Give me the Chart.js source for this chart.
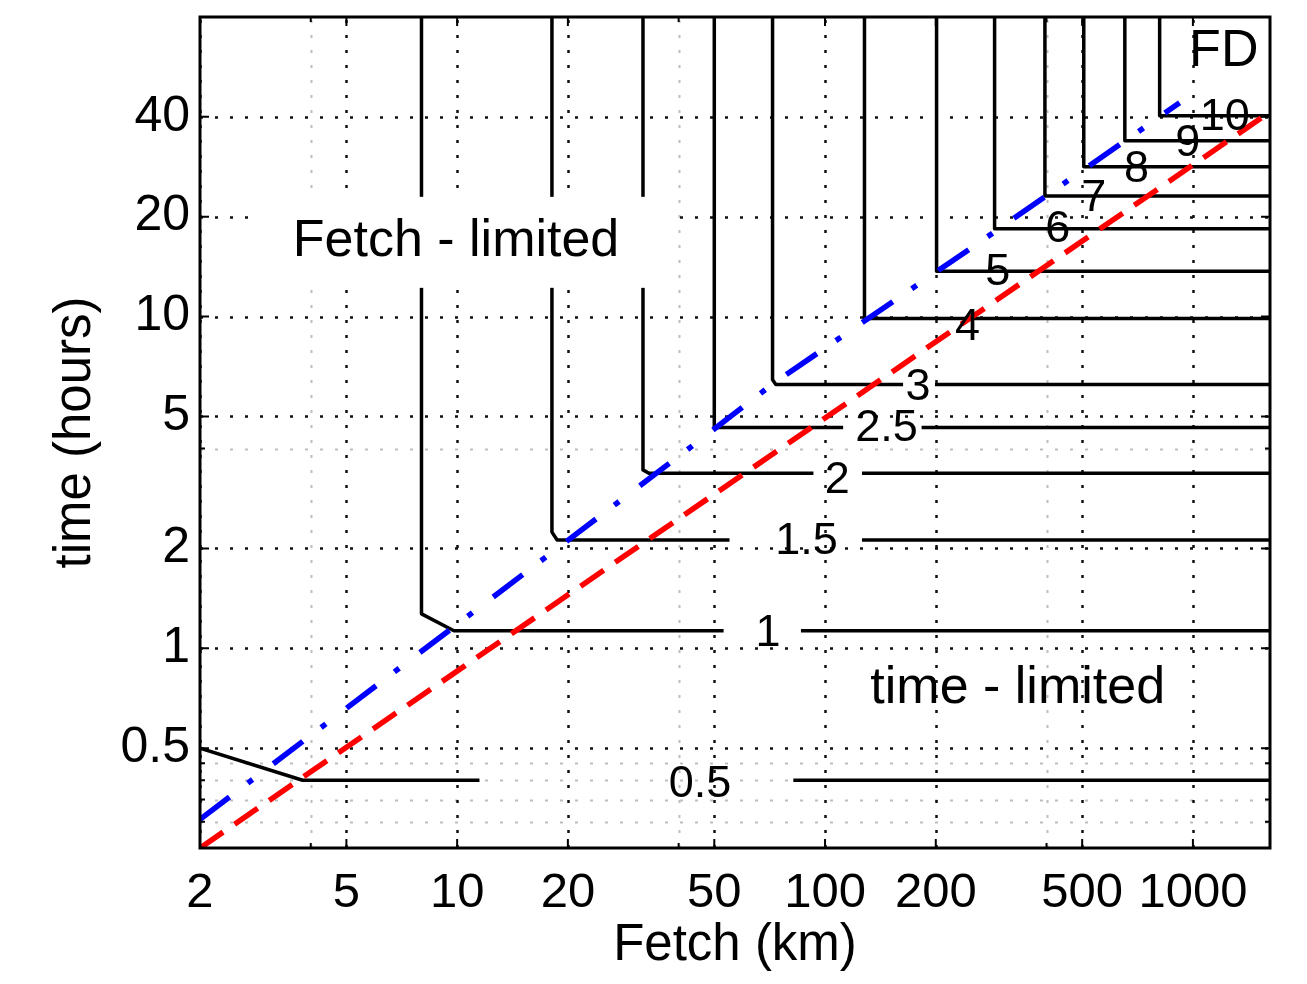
<!DOCTYPE html>
<html><head><meta charset="utf-8">
<script src="https://cdn.jsdelivr.net/npm/chart.js@4/dist/chart.umd.min.js"></script>
<style>html,body{margin:0;padding:0;background:#fff}#wrap{width:1307px;height:984px}</style>
</head><body><div id="wrap"><canvas id="c" width="1307" height="984"></canvas></div>
<script>
// ---- axes ----
const xTicks = [2, 5, 10, 20, 50, 100, 200, 500, 1000];
const yTicks = [0.5, 1, 2, 5, 10, 20, 40];
const xMinorGrid = [4, 40, 400];
const yMinorGrid = [0.3, 0.35, 0.4, 0.45, 4];

// ---- FD contours: segments of [fetch (km), time (hours)] ----
const fdLevels = ['0.5', '1', '1.5', '2', '2.5', '3', '4', '5', '6', '7', '8', '9', '10'];
const fd05 = [[[2, 0.5], [3.8, 0.4], [11.5, 0.4]], [[82, 0.4], [1620, 0.4]]];
const fd1  = [[[8, 80], [8, 1.27], [9.8, 1.13], [53, 1.13]], [[86, 1.13], [1620, 1.13]]];
const fd15 = [[[18.1, 80], [18.1, 2.24], [18.7, 2.12], [55, 2.12]], [[126, 2.12], [1620, 2.12]]];
const fd2  = [[[32, 80], [32, 3.45], [33.2, 3.37], [93, 3.37]], [[126, 3.37], [1620, 3.37]]];
const fd25 = [[[50, 80], [50, 4.63], [112, 4.63]], [[183, 4.63], [1620, 4.63]]];
const fd3  = [[[72, 80], [72, 6.45], [73.5, 6.24], [163, 6.24]], [[199, 6.24], [1620, 6.24]]];
const fd4  = [[[128, 80], [128, 9.86], [1620, 9.86]]];
const fd5  = [[[201, 80], [201, 13.7], [1620, 13.7]]];
const fd6  = [[[289, 80], [289, 18.4], [1620, 18.4]]];
const fd7  = [[[396, 80], [396, 23.1], [1620, 23.1]]];
const fd8  = [[[505, 80], [505, 28.3], [1620, 28.3]]];
const fd9  = [[[653, 80], [653, 33.9], [1620, 33.9]]];
const fd10 = [[[812, 80], [812, 40.3], [1620, 40.3]]];
const fdLabelX = [45.7, 70, 89, 108, 147, 179, 244, 295, 429, 538, 703, 968, 1220];
const fdLabelY = [0.387, 1.11, 2.10, 3.20, 4.60, 6.12, 9.29, 13.6, 18.3, 22.7, 27.7, 33.2, 39.8];

// ---- boundary lines ----
const dashDotLine = [[2, 0.305], [41, 3.87], [73, 6.33], [260, 16.6], [920, 44.1]];
const dashedLine = [[2, 0.25], [1620, 41.4]];

// ---- annotations ----
const regionTexts = [['Fetch - limited', 9.93, 16.8], ['time - limited', 334, 0.753], ['FD', 1213, 62.9]];

const contours = [fd05, fd1, fd15, fd2, fd25, fd3, fd4, fd5, fd6, fd7, fd8, fd9, fd10];

function toPts(segs) {
  const out = [];
  segs.forEach((seg, i) => {
    if (i > 0) out.push({x: seg[0][0], y: null});
    seg.forEach(p => out.push({x: p[0], y: p[1]}));
  });
  return out;
}

const FONT = "'Liberation Sans', Arial, Helvetica, sans-serif";
Chart.defaults.font.family = FONT;
Chart.defaults.color = '#000';

const datasets = [];
datasets.push({label: 'dashed', data: toPts([dashedLine]), borderColor: '#ff0000', borderWidth: 5.5,
  borderDash: [28, 14], borderCapStyle: 'butt', pointRadius: 0, showLine: true, fill: false, order: 0});
datasets.push({label: 'dashdot', data: toPts([dashDotLine]), borderColor: '#0000ff', borderWidth: 5.5,
  borderDash: [37, 23, 6, 26], borderCapStyle: 'butt', pointRadius: 0, showLine: true, fill: false, order: 1});
contours.forEach((c, i) => datasets.push({label: 'FD ' + fdLevels[i], data: toPts(c), borderColor: '#000',
  borderWidth: 3.5, borderJoinStyle: 'round', pointRadius: 0, showLine: true, fill: false, spanGaps: false, order: 2}));

const overlay = {
  id: 'overlay',
  beforeDatasetsDraw(chart) {
    const {ctx, chartArea: a, scales: {x, y}} = chart;
    ctx.save();
    ctx.beginPath(); ctx.rect(a.left, a.top, a.right - a.left, a.bottom - a.top); ctx.clip();
    const drawV = (v, color, w) => { const px = Math.round(x.getPixelForValue(v)) + 0.5;
      ctx.strokeStyle = color; ctx.lineWidth = w; ctx.beginPath(); ctx.moveTo(px, a.bottom); ctx.lineTo(px, a.top); ctx.stroke(); };
    const drawH = (v, color, w) => { const py = Math.round(y.getPixelForValue(v)) + 0.5;
      ctx.strokeStyle = color; ctx.lineWidth = w; ctx.beginPath(); ctx.moveTo(a.left, py); ctx.lineTo(a.right, py); ctx.stroke(); };
    ctx.setLineDash([3, 12]);
    xMinorGrid.forEach(v => drawV(v, '#bdbdbd', 2));
    yMinorGrid.forEach(v => drawH(v, '#bdbdbd', 2));
    xTicks.forEach(v => drawV(v, '#111', 2.5));
    yTicks.forEach(v => drawH(v, '#111', 2.5));
    ctx.restore();
  },
  afterDatasetsDraw(chart) {
    const {ctx, chartArea: a, scales: {x, y}} = chart;
    ctx.save();
    // white background behind "Fetch - limited"
    const fx = x.getPixelForValue(regionTexts[0][1]), fy = y.getPixelForValue(regionTexts[0][2]);
    ctx.fillStyle = '#fff';
    ctx.fillRect(fx - 201, fy - 45, 422, 91);
    ctx.fillStyle = '#000';
    ctx.textAlign = 'center'; ctx.textBaseline = 'middle';
    ctx.font = '52px ' + FONT;
    regionTexts.forEach(t => ctx.fillText(t[0], x.getPixelForValue(t[1]), y.getPixelForValue(t[2])));
    ctx.font = '45px ' + FONT;
    fdLevels.forEach((lab, i) => ctx.fillText(lab, x.getPixelForValue(fdLabelX[i]), y.getPixelForValue(fdLabelY[i])));
    // inward ticks
    ctx.strokeStyle = '#000'; ctx.lineWidth = 2;
    const tickX = (v, len) => { const px = x.getPixelForValue(v); ctx.beginPath();
      ctx.moveTo(px, a.bottom); ctx.lineTo(px, a.bottom - len); ctx.moveTo(px, a.top); ctx.lineTo(px, a.top + len); ctx.stroke(); };
    const tickY = (v, len) => { const py = y.getPixelForValue(v); ctx.beginPath();
      ctx.moveTo(a.left, py); ctx.lineTo(a.left + len, py); ctx.moveTo(a.right, py); ctx.lineTo(a.right - len, py); ctx.stroke(); };
    xTicks.forEach(v => tickX(v, 9)); xMinorGrid.forEach(v => tickX(v, 5));
    yTicks.forEach(v => tickY(v, 9)); yMinorGrid.forEach(v => tickY(v, 5));
    // frame
    ctx.lineWidth = 3;
    ctx.strokeRect(a.left, a.top, a.right - a.left, a.bottom - a.top);
    ctx.restore();
  }
};

new Chart(document.getElementById('c'), {
  type: 'scatter',
  data: {datasets},
  plugins: [overlay],
  options: {
    responsive: false, animation: false, devicePixelRatio: 1,
    layout: {padding: {left: 0, right: 37, top: 17, bottom: 0}},
    plugins: {legend: {display: false}, tooltip: {enabled: false}},
    elements: {line: {tension: 0}},
    scales: {
      x: {
        type: 'logarithmic', position: 'bottom', min: 2, max: 1620,
        grid: {display: false, drawTicks: false}, border: {display: false},
        afterBuildTicks: s => { s.ticks = xTicks.map(v => ({value: v})); },
        afterFit: s => { s.height = 136; s.paddingLeft = 0; s.paddingRight = 0; },
        ticks: {autoSkip: false, maxRotation: 0, minRotation: 0, padding: 16, color: '#000',
          font: {family: FONT, size: 49}, callback: v => String(v)},
        title: {display: true, text: 'Fetch (km)', color: '#000', font: {family: FONT, size: 51},
          padding: {top: 0, bottom: 7}}
      },
      y: {
        type: 'logarithmic', position: 'left', min: 0.25, max: 80,
        grid: {display: false, drawTicks: false}, border: {display: false},
        afterBuildTicks: s => { s.ticks = yTicks.map(v => ({value: v})); },
        afterFit: s => { s.width = 200; s.paddingTop = 0; s.paddingBottom = 0; },
        ticks: {autoSkip: false, padding: 10, color: '#000', font: {family: FONT, size: 50},
          callback: v => String(v)},
        title: {display: true, text: 'time (hours)', color: '#000', font: {family: FONT, size: 51},
          padding: {top: 45, bottom: 0}}
      }
    }
  }
});
</script></body></html>
